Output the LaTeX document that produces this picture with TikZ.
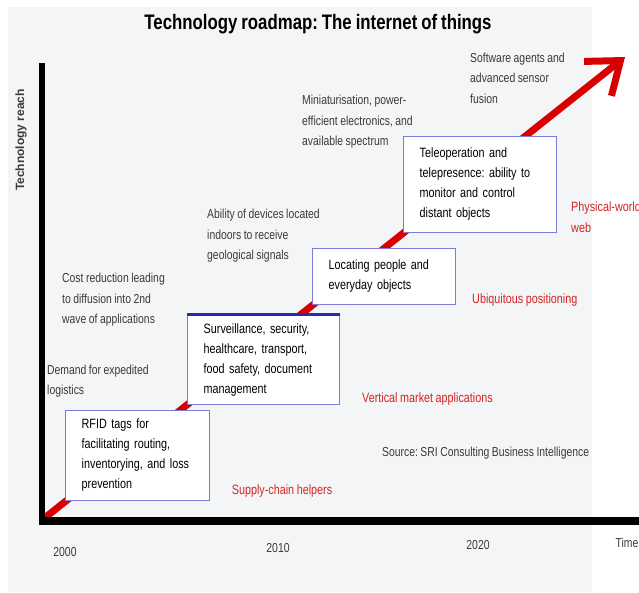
\documentclass[tikz,border=0pt]{standalone}
\usepackage{fontspec}
\setmainfont{Liberation Sans}[FakeStretch=0.8,WordSpace=0.85]
\newfontfamily\reachfont{Liberation Sans}
\usetikzlibrary{arrows.meta}
\definecolor{bggray}{HTML}{F4F5F6}
\definecolor{boxblue}{HTML}{7C7CD8}
\definecolor{topblue}{HTML}{2A2AAE}
\definecolor{roadred}{HTML}{D80000}
\definecolor{phasered}{HTML}{D42424}
\definecolor{notegray}{HTML}{3A3A3A}
\frenchspacing
\begin{document}
\begin{tikzpicture}[x=1pt,y=-1pt,
  stage/.style={draw=boxblue, line width=1.4pt, fill=white, inner xsep=16pt, inner ysep=0pt,
    align=left, anchor=south west, font=\fontsize{13.5}{20}\selectfont},
  note/.style={anchor=west, align=left, inner sep=0pt, text=notegray, font=\fontsize{13}{20.5}\selectfont},
  phase/.style={anchor=west, align=left, inner sep=0pt, text=phasered, font=\fontsize{13.5}{20.5}\selectfont},
  year/.style={inner sep=0pt, text=notegray, font=\fontsize{13}{15}\selectfont}]
\useasboundingbox [fill=white] (0,0) rectangle (639,592);
\fill [bggray] (8,7) rectangle (592,592);
\node (title) at (318,24) {\fontsize{21}{24}\selectfont\bfseries Technology roadmap: The internet of things};
\coordinate (origin) at (42,520);
\coordinate (tip) at (625,57);
\coordinate (ytop) at (42,63);
\coordinate (ybot) at (42,524);
\coordinate (xleft) at (39,521);
\coordinate (xright) at (645,521);
\draw [roadred, line width=7pt, -{Straight Barb[length=29pt,width=44pt]}] (origin) -- (tip);
\draw [black, line width=6pt] (ytop) -- (ybot);
\draw [black, line width=8pt] (xleft) -- (xright);
\node [rotate=90, inner sep=0pt, text=notegray, font=\reachfont\bfseries\fontsize{12}{14}\selectfont] (reach) at (21,140) {Technology reach};
\node [stage, text width=112pt, minimum height=90pt] (rfid) at (65,501) {RFID tags for\\ facilitating routing,\\ inventorying, and loss\\ prevention};
\node [stage, text width=120pt, minimum height=89pt] (surveil) at (187,405) {Surveillance, security,\\ healthcare, transport,\\ food safety, document\\ management};
\draw [topblue, line width=3pt] (surveil.north west) -- (surveil.north east);
\node [stage, text width=111pt, minimum height=56pt] (locate) at (312,305) {Locating people and\\ everyday objects};
\node [stage, text width=121pt, minimum height=96pt] (teleop) at (403,233) {Teleoperation and\\ telepresence: ability to\\ monitor and control\\ distant objects};
\node [note] (agents) at (470,78) {Software agents and\\ advanced sensor\\ fusion};
\node [note] (minia) at (302,122) {Miniaturisation, power-\\ efficient electronics, and\\ available spectrum};
\node [note] (indoor) at (207,236) {Ability of devices located\\ indoors to receive\\ geological signals};
\node [note] (cost) at (62,300) {Cost reduction leading\\ to diffusion into 2nd\\ wave of applications};
\node [note] (demand) at (47,381) {Demand for expedited\\ logistics};
\node [note] (source) at (382,453) {Source: SRI Consulting Business Intelligence};
\node [phase] (physical) at (571,217) {Physical-world\\ web};
\node [phase] (ubiq) at (472,300) {Ubiquitous positioning};
\node [phase] (vertical) at (362,399) {Vertical market applications};
\node [phase, anchor=center] (supply) at (282,491) {Supply-chain helpers};
\node [year] (y2000) at (65,552) {2000};
\node [year] (y2010) at (278,548) {2010};
\node [year] (y2020) at (478,545) {2020};
\node [year] (time) at (627,543) {Time};
\end{tikzpicture}
\end{document}
